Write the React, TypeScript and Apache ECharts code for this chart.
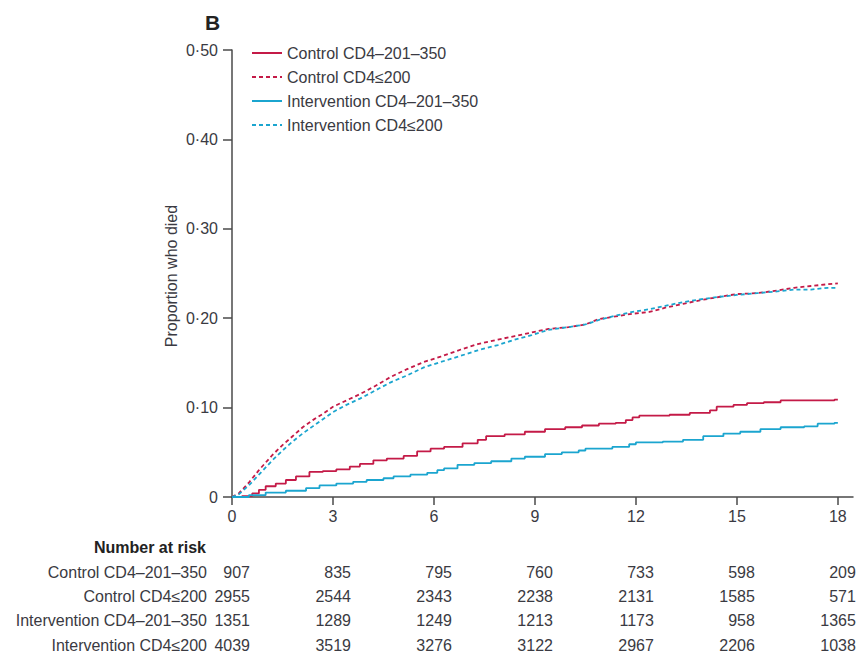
import React, { useEffect, useRef } from "react";
import * as echarts from "echarts";

const FONT = "'Liberation Sans', Arial, sans-serif";
const TEXT = "#3a3a42";
const AXIS = "#4a4a4a";
const RED = "#c41a47";
const BLUE = "#1ba5cf";

const seriesNames = [
  "Control CD4\u2013201\u2013350",
  "Control CD4\u2264200",
  "Intervention CD4\u2013201\u2013350",
  "Intervention CD4\u2264200",
];

// [month, cumulative proportion died]
const control201 = [
  [0, 0], [0.3, 0.001], [0.6, 0.004], [0.8, 0.008], [1.0, 0.012], [1.3, 0.015], [1.6, 0.019],
  [1.9, 0.023], [2.3, 0.028], [2.7, 0.029], [3.1, 0.031], [3.5, 0.034], [3.8, 0.037], [4.2, 0.041],
  [4.6, 0.043], [5.1, 0.046], [5.5, 0.051], [5.9, 0.054], [6.3, 0.056], [6.85, 0.06], [7.3, 0.064],
  [7.55, 0.068], [8.1, 0.07], [8.7, 0.073], [9.3, 0.076], [9.9, 0.078], [10.4, 0.08], [10.9, 0.082],
  [11.4, 0.083], [11.7, 0.086], [11.9, 0.089], [12.1, 0.091], [13.0, 0.092], [13.6, 0.094],
  [14.2, 0.097], [14.4, 0.101], [14.9, 0.103], [15.3, 0.105], [15.8, 0.106], [16.3, 0.108],
  [17.9, 0.109], [18, 0.109],
];
const control200 = [
  [0, 0], [0.2, 0.004], [0.5, 0.016], [0.8, 0.03], [1.2, 0.047], [1.5, 0.058], [1.8, 0.068],
  [2.1, 0.078], [2.4, 0.086], [2.7, 0.093], [3.0, 0.101], [3.4, 0.108], [3.8, 0.115], [4.2, 0.123],
  [4.7, 0.134], [5.2, 0.143], [5.7, 0.151], [6.2, 0.157], [6.8, 0.165], [7.3, 0.171], [7.9, 0.176],
  [8.4, 0.18], [8.9, 0.184], [9.4, 0.188], [10.0, 0.19], [10.5, 0.193], [10.9, 0.199], [11.4, 0.202],
  [11.9, 0.205], [12.4, 0.207], [12.9, 0.212], [13.4, 0.216], [13.9, 0.22], [14.5, 0.224],
  [15.0, 0.227], [15.6, 0.228], [16.2, 0.231], [16.7, 0.234], [17.2, 0.236], [17.7, 0.238], [18, 0.239],
];
const intervention201 = [
  [0, 0], [0.5, 0.002], [1.0, 0.005], [1.6, 0.007], [2.2, 0.01], [2.6, 0.013], [3.1, 0.015],
  [3.6, 0.017], [4.0, 0.019], [4.5, 0.021], [4.8, 0.023], [5.3, 0.025], [5.8, 0.027], [6.1, 0.03],
  [6.3, 0.032], [6.7, 0.036], [7.2, 0.038], [7.7, 0.04], [8.3, 0.043], [8.7, 0.045], [9.3, 0.048],
  [9.8, 0.05], [10.3, 0.052], [10.5, 0.054], [11.3, 0.056], [11.8, 0.059], [12.0, 0.061],
  [12.8, 0.062], [13.4, 0.064], [14.0, 0.068], [14.6, 0.071], [15.1, 0.073], [15.7, 0.076],
  [16.3, 0.078], [17.0, 0.079], [17.4, 0.082], [17.9, 0.083], [18, 0.083],
];
const intervention200 = [
  [0, 0], [0.2, 0.003], [0.5, 0.013], [0.8, 0.025], [1.2, 0.041], [1.5, 0.052], [1.8, 0.062],
  [2.1, 0.071], [2.4, 0.079], [2.7, 0.087], [3.0, 0.095], [3.4, 0.103], [3.8, 0.11], [4.2, 0.118],
  [4.7, 0.128], [5.2, 0.136], [5.7, 0.145], [6.2, 0.151], [6.8, 0.158], [7.3, 0.164], [7.9, 0.17],
  [8.4, 0.176], [8.9, 0.181], [9.4, 0.187], [10.0, 0.19], [10.5, 0.193], [10.9, 0.198], [11.4, 0.203],
  [11.9, 0.207], [12.4, 0.21], [12.9, 0.214], [13.4, 0.218], [13.9, 0.221], [14.5, 0.224],
  [15.0, 0.226], [15.6, 0.228], [16.2, 0.23], [16.7, 0.232], [17.2, 0.232], [17.7, 0.234], [18, 0.234],
];

const xTicks = [0, 3, 6, 9, 12, 15, 18];
const yTicks = [0, 0.1, 0.2, 0.3, 0.4, 0.5];

const riskMonths = [0, 3, 6, 9, 12, 15, 18];
const riskControl201 = [907, 835, 795, 760, 733, 598, 209];
const riskControl200 = [2955, 2544, 2343, 2238, 2131, 1585, 571];
const riskIntervention201 = [1351, 1289, 1249, 1213, 1173, 958, 1365];
const riskIntervention200 = [4039, 3519, 3276, 3122, 2967, 2206, 1038];
const riskRows = [riskControl201, riskControl200, riskIntervention201, riskIntervention200];

export default function App() {
  const ref = useRef<HTMLDivElement>(null);
  useEffect(() => {
    if (!ref.current) return;
    const chart = echarts.init(ref.current, null, { renderer: "svg" });
    const mk = (name: string, data: number[][], color: string, dashed: boolean) => ({
      name,
      type: "line",
      step: dashed ? false : "end",
      data,
      symbol: "none",
      showSymbol: false,
      lineStyle: { color, width: 1.8, type: dashed ? [4, 3] : "solid" },
      itemStyle: { color },
      z: 3,
    });
    chart.setOption({
      animation: false,
      grid: { left: 232, right: 3, top: 50, bottom: 161, containLabel: false },
      legend: {
        orient: "vertical",
        left: 246,
        top: 40,
        itemWidth: 30,
        itemHeight: 14,
        itemGap: 8,
        itemStyle: { opacity: 0 },
        textStyle: { fontFamily: FONT, fontSize: 16, color: TEXT },
        data: seriesNames,
      },
      xAxis: {
        type: "value",
        min: 0,
        max: 18.45,
        splitLine: { show: false },
        axisLine: { onZero: false, lineStyle: { color: AXIS, width: 1.5 } },
        axisTick: { show: true, length: 8, lineStyle: { color: AXIS, width: 1.5 }, customValues: xTicks },
        axisLabel: { customValues: xTicks, fontFamily: FONT, fontSize: 16, color: TEXT, margin: 11 },
      },
      yAxis: {
        type: "value",
        min: 0,
        max: 0.5,
        interval: 0.1,
        splitLine: { show: false },
        axisLine: { show: true, lineStyle: { color: AXIS, width: 1.5 } },
        axisTick: { show: true, inside: false, length: 9, lineStyle: { color: AXIS, width: 1.5 }, customValues: yTicks },
        axisLabel: {
          customValues: yTicks,
          fontFamily: FONT,
          fontSize: 16,
          color: TEXT,
          margin: 14,
          formatter: (v: number) => (v === 0 ? "0" : v.toFixed(2).replace(".", "\u00b7")),
        },
      },
      series: [
        mk(seriesNames[0], control201, RED, false),
        mk(seriesNames[1], control200, RED, true),
        mk(seriesNames[2], intervention201, BLUE, false),
        mk(seriesNames[3], intervention200, BLUE, true),
      ],
    });

    const rowY = [572, 596.5, 620.5, 645];
    const graphics: any[] = [
      {
        type: "text",
        x: 205,
        y: 22,
        style: { text: "B", font: `bold 21px ${FONT}`, fill: "#222", textVerticalAlign: "middle" },
      },
      {
        type: "text",
        x: 171,
        y: 276,
        rotation: Math.PI / 2,
        style: {
          text: "Proportion who died",
          font: `16px ${FONT}`,
          fill: TEXT,
          textAlign: "center",
          textVerticalAlign: "middle",
        },
      },
      {
        type: "text",
        x: 206,
        y: 547,
        style: {
          text: "Number at risk",
          font: `bold 16px ${FONT}`,
          fill: "#222",
          textAlign: "right",
          textVerticalAlign: "middle",
        },
      },
    ];
    seriesNames.forEach((n, i) => {
      graphics.push({
        type: "text",
        x: 207,
        y: rowY[i],
        style: { text: n, font: `16px ${FONT}`, fill: TEXT, textAlign: "right", textVerticalAlign: "middle" },
      });
      riskRows[i].forEach((v, j) => {
        const px = chart.convertToPixel({ xAxisIndex: 0 }, riskMonths[j]) as number;
        graphics.push({
          type: "text",
          x: px + 18,
          y: rowY[i],
          style: {
            text: String(v),
            font: `16px ${FONT}`,
            fill: TEXT,
            textAlign: "right",
            textVerticalAlign: "middle",
          },
        });
      });
    });
    chart.setOption({ graphic: graphics });
    return () => chart.dispose();
  }, []);
  return <div ref={ref} style={{ width: 856, height: 658, position: "absolute", left: 0, top: 0 }} />;
}
